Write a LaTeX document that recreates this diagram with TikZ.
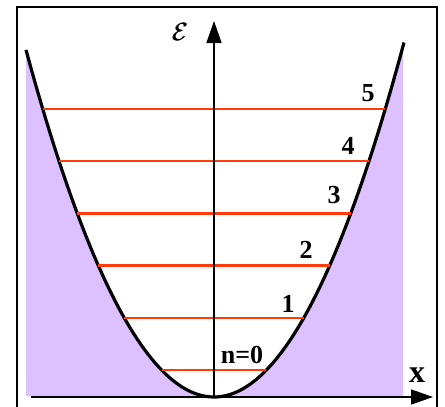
\documentclass[tikz,border=0pt]{standalone}
\usepackage{fontspec}
\setmainfont{Liberation Serif}
\usetikzlibrary{arrows.meta, positioning}

\definecolor{wallviolet}{RGB}{221,192,255}
\definecolor{levelred}{RGB}{255,60,10}

\begin{document}
\begin{tikzpicture}[x=1pt, y=-1pt, font=\bfseries\fontsize{26}{28}\selectfont, frame style/.style={line width=2pt, black}, wall fill/.style={fill=wallviolet}, well line/.style={line width=3.2pt, black, line join=round}, axis style/.style={line width=1.6pt, -{Triangle[length=22pt, width=15pt]}}, level style/.style={line width=2.4pt, levelred}, level label/.style={inner sep=0pt}]

    \useasboundingbox (0,0) rectangle (445,407);

    % =========================================================================
    % Marco y potencial
    % =========================================================================
    \draw[frame style] (17,412) -- (17,7) -- (437,7) -- (437,412);

    \pgfmathsetmacro{\k}{98.2}
    \fill[wall fill] (26,396) -- plot[domain=26:403, samples=80] (\x, {397-\k*((\x-214)/100)^2}) -- (403,396) -- cycle;
    \draw[well line] plot[domain=26:404, samples=100] (\x, {397-\k*((\x-214)/100)^2});

    % =========================================================================
    % Niveles de energia
    % =========================================================================
    \foreach \n in {0,...,5} {
        \pgfmathsetmacro{\yy}{370-52.2*\n}
        \pgfmathsetmacro{\hw}{100*sqrt((397-\yy)/\k)}
        \coordinate (l\n) at ({214-\hw}, \yy);
        \coordinate (r\n) at ({214+\hw}, \yy);
        \draw[level style] (l\n) -- (r\n);
    }

    \node[level label] (lab0) at (242,355) {n=0};
    \node[level label] (lab1) at (288,304) {1};
    \node[level label] (lab2) at (306,250) {2};
    \node[level label] (lab3) at (334,195) {3};
    \node[level label] (lab4) at (348,146) {4};
    \node[level label] (lab5) at (368,93) {5};

    % =========================================================================
    % Ejes
    % =========================================================================
    \coordinate (origin) at (214,397);
    \coordinate (xstart) at (31,397);
    \coordinate (xend) at (433,397);
    \coordinate (eend) at (214,21);
    \draw[axis style] (xstart) -- (xend);
    \draw[axis style] (origin) -- (eend);

    \node[level label, font=\bfseries\fontsize{32}{34}\selectfont] (xlab) at (417,375) {x};
    \node[level label] (elab) at (180,32) {\rlap{$\mathcal{E}$}\kern0.9pt$\mathcal{E}$};

\end{tikzpicture}
\end{document}
